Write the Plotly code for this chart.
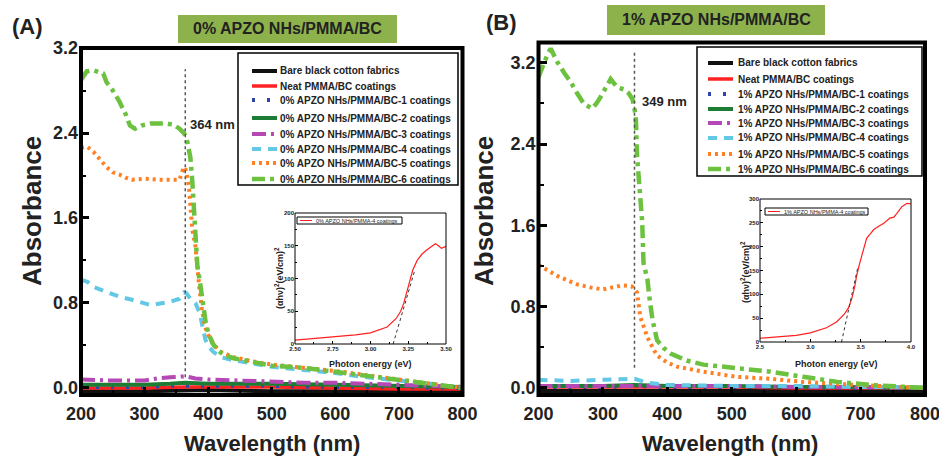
import plotly.graph_objects as go

FONT = "Liberation Sans, Arial, Helvetica, sans-serif"
W, H = 939, 458

# ---------------- data ----------------
names_A = ["Bare black cotton fabrics", "Neat PMMA/BC coatings",
           "0% APZO NHs/PMMA/BC-1 coatings", "0% APZO NHs/PMMA/BC-2 coatings",
           "0% APZO NHs/PMMA/BC-3 coatings", "0% APZO NHs/PMMA/BC-4 coatings",
           "0% APZO NHs/PMMA/BC-5 coatings", "0% APZO NHs/PMMA/BC-6 coatings"]
names_B = ["Bare black cotton fabrics", "Neat PMMA/BC coatings",
           "1% APZO NHs/PMMA/BC-1 coatings", "1% APZO NHs/PMMA/BC-2 coatings",
           "1% APZO NHs/PMMA/BC-3 coatings", "1% APZO NHs/PMMA/BC-4 coatings",
           "1% APZO NHs/PMMA/BC-5 coatings", "1% APZO NHs/PMMA/BC-6 coatings"]

# Panel A (0 %)
a_bare_wl = [200, 300, 400, 500, 600, 700, 800]
a_bare_abs = [-0.03, -0.03, -0.02, -0.03, -0.03, -0.03, -0.03]
a_neat_wl = [200, 250, 300, 364, 400, 500, 600, 700, 800]
a_neat_abs = [0.00, 0.00, 0.00, 0.01, 0.01, 0.01, 0.00, -0.01, -0.01]
a_c1_wl = [200, 250, 300, 340, 364, 400, 500, 600, 700, 800]
a_c1_abs = [0.01, 0.01, 0.01, 0.02, 0.02, 0.02, 0.02, 0.01, 0.01, 0.00]
a_c2_wl = [200, 250, 300, 340, 364, 400, 500, 600, 700, 800]
a_c2_abs = [0.03, 0.03, 0.03, 0.04, 0.05, 0.04, 0.04, 0.03, 0.02, 0.01]
a_c3_wl = [200, 250, 300, 320, 340, 364, 380, 400, 450, 500, 550, 600, 650, 700, 750, 800]
a_c3_abs = [0.08, 0.07, 0.07, 0.09, 0.10, 0.11, 0.09, 0.08, 0.07, 0.06, 0.05, 0.05, 0.04, 0.03, 0.02, 0.01]
a_c4_wl = [200, 210, 220, 240, 260, 280, 300, 310, 320, 340, 355, 362, 366, 372, 380, 387,
           392, 396, 402, 408, 420, 440, 470, 500, 550, 600, 650, 700, 750, 800]
a_c4_abs = [1.02, 1.00, 0.95, 0.90, 0.86, 0.83, 0.80, 0.78, 0.79, 0.81, 0.84, 0.90, 0.89, 0.84, 0.80, 0.70,
            0.55, 0.45, 0.38, 0.34, 0.29, 0.26, 0.23, 0.20, 0.17, 0.14, 0.10, 0.07, 0.04, 0.00]
a_c5_wl = [200, 210, 220, 230, 240, 250, 260, 270, 280, 300, 320, 340, 355, 360, 363, 366, 370,
           375, 380, 386, 390, 395, 400, 410, 420, 440, 470, 500, 550, 600, 650, 700, 750, 800]
a_c5_abs = [2.26, 2.27, 2.22, 2.15, 2.08, 2.03, 2.01, 1.98, 1.96, 1.97, 1.96, 1.96, 1.96, 2.05, 2.08, 2.03, 1.88,
            1.49, 1.33, 0.95, 0.75, 0.58, 0.50, 0.40, 0.34, 0.29, 0.25, 0.22, 0.19, 0.16, 0.12, 0.08, 0.04, 0.00]
a_c6_wl = [200, 209, 220, 235, 240, 250, 260, 270, 277, 285, 295, 310, 330, 345, 355, 362, 366, 370, 372,
           375, 377, 380, 383, 387, 392, 396, 400, 407, 414, 425, 440, 470, 500, 550, 600, 650, 700, 750, 800]
a_c6_abs = [2.90, 2.98, 2.99, 2.96, 2.88, 2.80, 2.70, 2.58, 2.47, 2.44, 2.47, 2.49, 2.49, 2.48, 2.44, 2.40, 2.35, 2.25, 2.17,
            1.95, 1.74, 1.40, 1.15, 1.00, 0.78, 0.62, 0.52, 0.42, 0.36, 0.31, 0.28, 0.24, 0.21, 0.19, 0.15, 0.12, 0.08, 0.04, 0.00]

# Panel B (1 %)
b_bare_wl = [200, 300, 400, 500, 600, 700, 800]
b_bare_abs = [-0.03, -0.03, -0.03, -0.03, -0.03, -0.03, -0.03]
b_neat_wl = [200, 300, 400, 500, 600, 700, 800]
b_neat_abs = [0.01, 0.01, 0.01, 0.01, 0.00, 0.00, 0.00]
b_c1_wl = [200, 300, 349, 400, 500, 600, 700, 800]
b_c1_abs = [0.01, 0.01, 0.02, 0.01, 0.01, 0.01, 0.00, 0.00]
b_c2_wl = [200, 300, 349, 400, 500, 600, 700, 800]
b_c2_abs = [0.02, 0.02, 0.03, 0.02, 0.02, 0.01, 0.01, 0.00]
b_c3_wl = [200, 300, 349, 400, 500, 600, 700, 800]
b_c3_abs = [0.02, 0.02, 0.02, 0.02, 0.02, 0.01, 0.01, 0.00]
b_c4_wl = [200, 250, 300, 349, 370, 400, 500, 600, 700, 800]
b_c4_abs = [0.08, 0.07, 0.08, 0.09, 0.05, 0.03, 0.02, 0.02, 0.01, 0.01]
b_c5_wl = [200, 215, 230, 245, 260, 280, 300, 315, 330, 345, 350, 353, 358, 363, 369, 377, 384,
           400, 415, 456, 508, 560, 611, 664, 715, 760, 800]
b_c5_abs = [1.21, 1.15, 1.10, 1.06, 1.02, 0.99, 0.97, 0.99, 1.01, 1.00, 0.97, 0.94, 0.70, 0.60, 0.50, 0.40, 0.32,
            0.25, 0.21, 0.16, 0.11, 0.09, 0.06, 0.04, 0.02, 0.01, 0.00]
b_c6_wl = [200, 205, 210, 215, 219, 224, 229, 240, 250, 260, 270, 283, 290, 296, 305, 312, 317, 322, 332, 340,
           346, 349, 351, 353, 358, 361, 363, 369, 373, 377, 384, 395, 405, 430, 456, 508, 560, 611, 664, 715, 760, 800]
b_c6_abs = [3.06, 3.15, 3.22, 3.30, 3.34, 3.27, 3.21, 3.10, 3.01, 2.90, 2.80, 2.75, 2.80, 2.86, 2.95, 3.04, 3.00, 2.96, 2.94, 2.90,
            2.84, 2.75, 2.68, 2.28, 1.89, 1.63, 1.23, 1.07, 0.85, 0.67, 0.47, 0.39, 0.34, 0.27, 0.23, 0.20, 0.16, 0.11, 0.06, 0.03, 0.02, 0.00]

# absorption-edge markers
a_edge_wl, a_edge_abs = [364, 364], [0.10, 3.00]
b_edge_wl, b_edge_abs = [349, 349], [0.20, 3.32]
a_edge_label, b_edge_label = "364 nm", "349 nm"

# Tauc-plot insets
ia_energy = [2.50, 2.60, 2.70, 2.78, 2.90, 3.00, 3.05, 3.11, 3.17, 3.20, 3.22, 3.24, 3.26, 3.28, 3.31,
             3.34, 3.37, 3.40, 3.43, 3.45, 3.47, 3.50]
ia_value = [6, 8, 10, 11, 14, 17, 21, 26, 39, 50, 62, 80, 97, 113, 128, 137, 143, 148, 153, 150, 146, 149]
ia_fit_energy, ia_fit_value = [3.15, 3.29], [0, 110]
ib_energy = [2.50, 2.70, 2.86, 3.00, 3.16, 3.26, 3.34, 3.38, 3.41, 3.44, 3.46, 3.49, 3.51, 3.54, 3.56,
             3.60, 3.63, 3.68, 3.73, 3.79, 3.83, 3.86, 3.91, 3.96, 4.00]
ib_value = [8, 11, 14, 19, 30, 42, 59, 72, 90, 115, 139, 165, 180, 205, 218, 228, 236, 243, 249, 260,
            262, 270, 284, 291, 290]
ib_fit_energy, ib_fit_value = [3.31, 3.47], [0, 155]
inset_names = ["0% APZO NHs/PMMA-4 coatings", "1% APZO NHs/PMMA-4 coatings"]

# ---------------- styles ----------------
colors = ["#111111", "#ff2222", "#2f45a8", "#1d7d35", "#b548b5", "#62c8e3", "#ff7f22", "#6cc13f"]
dashes = ["solid", "solid", "3px,12px", "solid", "14px,5px,3px,5px", "9px,7px", "3px,4px", "13px,5px,4px,5px"]
widths = [4, 3.5, 4, 4, 4, 4, 4, 4.5]


def px(x):
    return x / W


def py(y):
    return 1 - y / H


fig = go.Figure()

series_A = [(a_bare_wl, a_bare_abs), (a_neat_wl, a_neat_abs), (a_c1_wl, a_c1_abs), (a_c2_wl, a_c2_abs),
            (a_c3_wl, a_c3_abs), (a_c4_wl, a_c4_abs), (a_c5_wl, a_c5_abs), (a_c6_wl, a_c6_abs)]
series_B = [(b_bare_wl, b_bare_abs), (b_neat_wl, b_neat_abs), (b_c1_wl, b_c1_abs), (b_c2_wl, b_c2_abs),
            (b_c3_wl, b_c3_abs), (b_c4_wl, b_c4_abs), (b_c5_wl, b_c5_abs), (b_c6_wl, b_c6_abs)]

for (xs, ys), nm, c, d, w in zip(series_A, names_A, colors, dashes, widths):
    fig.add_trace(go.Scatter(x=xs, y=ys, name=nm, mode="lines", line=dict(color=c, dash=d, width=w),
                             xaxis="x", yaxis="y", showlegend=False))
for (xs, ys), nm, c, d, w in zip(series_B, names_B, colors, dashes, widths):
    fig.add_trace(go.Scatter(x=xs, y=ys, name=nm, mode="lines", line=dict(color=c, dash=d, width=w),
                             xaxis="x2", yaxis="y2", showlegend=False))

fig.add_trace(go.Scatter(x=a_edge_wl, y=a_edge_abs, mode="lines", line=dict(color="#555", dash="dot", width=1.5),
                         xaxis="x", yaxis="y", showlegend=False))
fig.add_trace(go.Scatter(x=b_edge_wl, y=b_edge_abs, mode="lines", line=dict(color="#555", dash="dot", width=1.5),
                         xaxis="x2", yaxis="y2", showlegend=False))

# insets
fig.add_trace(go.Scatter(x=ia_energy, y=ia_value, mode="lines", line=dict(color="#ff2020", width=1.2),
                         name=inset_names[0], xaxis="x3", yaxis="y3", showlegend=False))
fig.add_trace(go.Scatter(x=ia_fit_energy, y=ia_fit_value, mode="lines", line=dict(color="#333", dash="dot", width=1),
                         xaxis="x3", yaxis="y3", showlegend=False))
fig.add_trace(go.Scatter(x=ib_energy, y=ib_value, mode="lines", line=dict(color="#ff2020", width=1.2),
                         name=inset_names[1], xaxis="x4", yaxis="y4", showlegend=False))
fig.add_trace(go.Scatter(x=ib_fit_energy, y=ib_fit_value, mode="lines", line=dict(color="#333", dash="dot", width=1),
                         xaxis="x4", yaxis="y4", showlegend=False))

tickfont_main = dict(family=FONT, size=18, color="#222", weight="bold")
tickfont_in = dict(family=FONT, size=6, color="#222", weight="bold")


def main_axis(domain, rng, dtick, minor_dtick, anchor, fmt=None, standoff=0):
    d = dict(domain=domain, range=rng, dtick=dtick, tick0=0, anchor=anchor, showline=False,
             ticks="inside", ticklen=8, tickwidth=3, tickcolor="black", automargin=False,
             ticklabeloverflow="allow", ticklabelstandoff=standoff,
             showgrid=False, zeroline=False, tickfont=tickfont_main,
             minor=dict(ticks="inside", ticklen=5, tickwidth=2, tickcolor="black", dtick=minor_dtick, showgrid=False))
    if fmt:
        d["tickformat"] = fmt
    return d


def inset_axis(domain, rng, dtick, minor_dtick, anchor, fmt=None):
    d = dict(domain=domain, range=rng, dtick=dtick, tick0=0, anchor=anchor, showline=False,
             ticks="inside", ticklen=3, tickwidth=1, tickcolor="black", automargin=False,
             ticklabeloverflow="allow",
             showgrid=False, zeroline=False, tickfont=tickfont_in,
             minor=dict(ticks="inside", ticklen=2, tickwidth=0.8, tickcolor="black", dtick=minor_dtick, showgrid=False))
    if fmt:
        d["tickformat"] = fmt
    return d


fig.update_layout(
    template="none",
    width=W, height=H, autosize=False, margin=dict(l=0, r=0, t=0, b=0, pad=0),
    paper_bgcolor="white", plot_bgcolor="white",
    xaxis=main_axis([px(81), px(462.5)], [200, 800], 100, 50, "y", standoff=6),
    yaxis=main_axis([py(395), py(48)], [-0.066, 3.20], 0.8, 0.4, "x", ".1f", standoff=2),
    xaxis2=main_axis([px(538.5), px(925)], [200, 800], 100, 50, "y2", standoff=6),
    yaxis2=main_axis([py(395), py(42.5)], [-0.069, 3.40], 0.8, 0.4, "x2", ".1f", standoff=2),
    xaxis3=inset_axis([px(295), px(446)], [2.5, 3.5], 0.25, 0.125, "y3", ".2f"),
    yaxis3=inset_axis([py(344), py(213)], [0, 200], 50, 25, "x3"),
    xaxis4=inset_axis([px(760), px(911)], [2.5, 4.0], 0.5, 0.25, "y4", ".1f"),
    yaxis4=inset_axis([py(342), py(199)], [0, 300], 50, 25, "x4"),
    showlegend=False,
)

shapes = []
annots = []

# frames of the four plot areas
for ax, wd in [("", 4), ("2", 4), ("3", 1), ("4", 1)]:
    shapes.append(dict(type="rect", xref="x%s domain" % ax, yref="y%s domain" % ax, x0=0, x1=1, y0=0, y1=1,
                       line=dict(color="black", width=wd), fillcolor="rgba(0,0,0,0)"))


def text(x, y, s, size, bold=True, xanchor="center", yanchor="middle", angle=0, color="#222"):
    annots.append(dict(x=px(x), y=py(y), xref="paper", yref="paper", text=s, showarrow=False,
                       xanchor=xanchor, yanchor=yanchor, textangle=angle,
                       font=dict(family=FONT, size=size, color=color, weight="bold" if bold else "normal")))


# panel titles (green boxes)
shapes.append(dict(type="rect", xref="paper", yref="paper", x0=px(178), x1=px(397), y0=py(43), y1=py(15),
                   fillcolor="#8db24c", line=dict(width=0), layer="below"))
shapes.append(dict(type="rect", xref="paper", yref="paper", x0=px(607), x1=px(825), y0=py(35), y1=py(5),
                   fillcolor="#8db24c", line=dict(width=0), layer="below"))
text(287.5, 29, "0% APZO NHs/PMMA/BC", 16)
text(716, 20, "1% APZO NHs/PMMA/BC", 16)
text(27, 27, "(A)", 22)
text(501, 22, "(B)", 22)

# axis titles
text(32, 211, "Absorbance", 26, angle=-90)
text(484, 211, "Absorbance", 26, angle=-90)
text(272, 443, "Wavelength (nm)", 22)
text(730, 443, "Wavelength (nm)", 22)

# edge labels
annots.append(dict(x=368, y=2.48, xref="x", yref="y", text=a_edge_label, showarrow=False, xanchor="left",
                   font=dict(family=FONT, size=13, color="#222", weight="bold")))
annots.append(dict(x=358, y=2.82, xref="x2", yref="y2", text=b_edge_label, showarrow=False, xanchor="left",
                   font=dict(family=FONT, size=13, color="#222", weight="bold")))


# legends
def legend(box, rows, line_x, text_x, names):
    x0, y0, x1, y1 = box
    shapes.append(dict(type="rect", xref="paper", yref="paper", x0=px(x0), x1=px(x1), y0=py(y1), y1=py(y0),
                       fillcolor="white", line=dict(color="black", width=1.5)))
    for yy, nm, c, d, w in zip(rows, names, colors, dashes, widths):
        shapes.append(dict(type="line", xref="paper", yref="paper", x0=px(line_x[0]), x1=px(line_x[1]),
                           y0=py(yy), y1=py(yy), line=dict(color=c, dash=d, width=w)))
        text(text_x, yy, nm, 10, xanchor="left")


legend((238, 53, 458, 185), [71, 86, 100, 118, 134, 149, 163, 179], (252, 277), 278, names_A)
legend((697, 47, 922, 176), [63, 79, 94, 109, 123, 138, 154, 169], (708, 733), 736, names_B)

# inset legends
for box, lx, tx, nm in [((297, 217, 402, 224), (300, 312), 314, inset_names[0]),
                        ((765, 208, 868, 215), (768, 780), 782, inset_names[1])]:
    shapes.append(dict(type="rect", xref="paper", yref="paper", x0=px(box[0]), x1=px(box[2]), y0=py(box[3]),
                       y1=py(box[1]), fillcolor="white", line=dict(color="black", width=1)))
    yy = (box[1] + box[3]) / 2
    shapes.append(dict(type="line", xref="paper", yref="paper", x0=px(lx[0]), x1=px(lx[1]), y0=py(yy), y1=py(yy),
                       line=dict(color="#ff2020", width=1)))
    text(tx, yy, nm, 5.5, bold=False, xanchor="left")

# inset axis titles
text(279, 278, "(αhν)<sup>2</sup>(eV/cm)<sup>2</sup>", 9, angle=-90)
text(745, 272, "(αhν)<sup>2</sup>(eV/cm)<sup>2</sup>", 9, angle=-90)
text(370, 364, "Photon energy (eV)", 9)
text(836, 364, "Photon energy (eV)", 9)

fig.update_layout(shapes=shapes, annotations=annots)
fig.write_html("out.html")
